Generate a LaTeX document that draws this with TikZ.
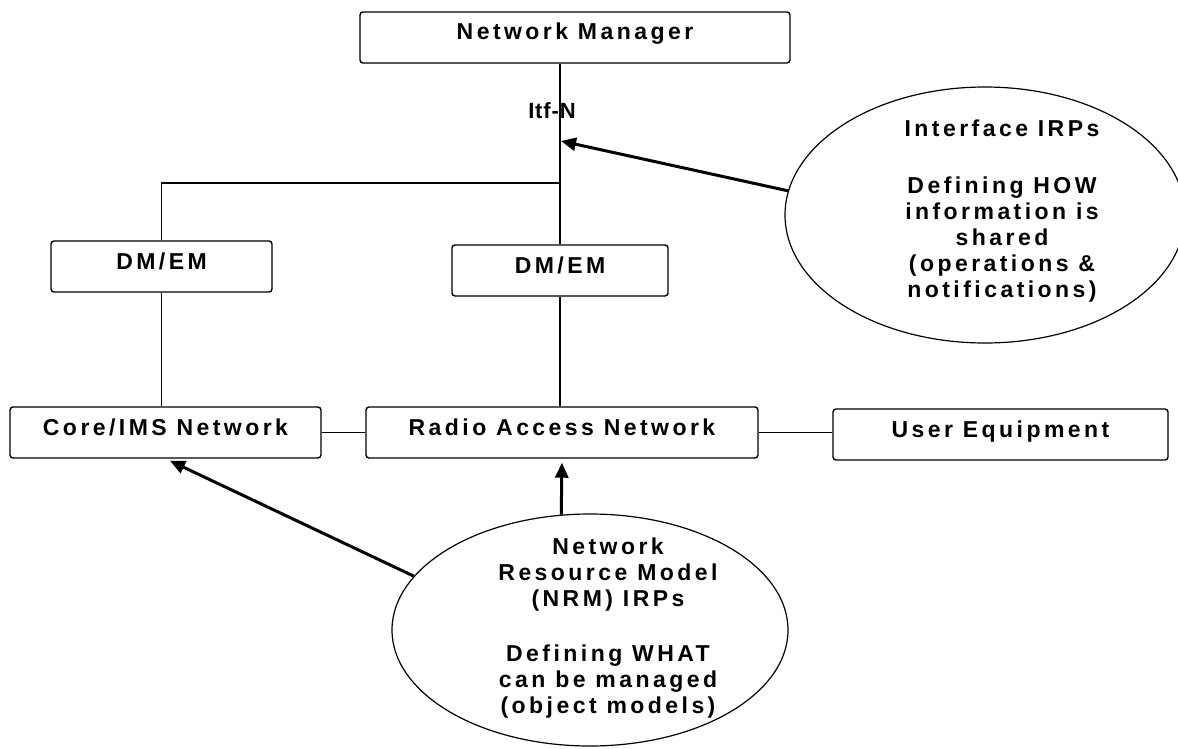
\documentclass[tikz,border=0pt]{standalone}
\usepackage{fontspec}
\setmainfont{Liberation Sans}[LetterSpace=15]
\usetikzlibrary{arrows.meta,shapes.geometric}

\begin{document}
\begin{tikzpicture}[x=1pt,y=-1pt,
    elbox/.style={draw,line width=1.4pt,rounded corners=3pt,inner sep=0pt,
      minimum height=51pt,text height=16pt,text depth=11pt,
      font=\fontsize{23}{26}\selectfont\bfseries},
    bubble/.style={draw,ellipse,line width=1.2pt,inner sep=0pt},
    bubbletext/.style={align=center,font=\fontsize{23}{26}\selectfont\bfseries},
    link/.style={line width=1.1pt},
    pointer/.style={line width=3pt,-{Triangle[length=15pt,width=13pt]}}]
      \useasboundingbox (0,0) rectangle (1178,749);
      % boxes
      \node[elbox,minimum width=430pt] (nm) at (575,37.5) {Network Manager};
      \node[elbox,minimum width=221pt] (dml) at (161.5,266.5) {DM/EM};
      \node[elbox,minimum width=216pt] (dmr) at (560,270.5) {DM/EM};
      \node[elbox,minimum width=311pt] (core) at (165.5,432.5) {Core/IMS Network};
      \node[elbox,minimum width=392pt] (ran) at (562,432.5) {Radio Access Network};
      \node[elbox,minimum width=335pt] (ue) at (1000.5,434.5) {User Equipment};
      % ellipses
      \node[bubble,minimum width=400pt,minimum height=256pt] (iface) at (985,215) {};
      \node[bubbletext] (ifacetxt) at (1002,211) {Interface IRPs\\[31pt]Defining HOW\\information is\\shared\\(operations \&\\notifications)};
      \node[bubble,minimum width=396pt,minimum height=232pt] (nrm) at (590,630) {};
      \node[bubbletext] (nrmtxt) at (608,628) {Network\\Resource Model\\(NRM) IRPs\\[29pt]Defining WHAT\\can be managed\\(object models)};
      \node[font=\fontsize{22}{26}\selectfont\bfseries\addfontfeature{LetterSpace=4}] (itf) at (552,111) {Itf-N};
      \coordinate (junc) at (560,183);
      \coordinate (itftip) at (561,141);
      % links
      \draw[link] (nm.south -| dmr.north) -- (dmr.north);
      \draw[link] (junc) -- (junc -| dml.north) -- (dml.north);
      \draw[link] (dml.south) -- (dml.south |- core.north);
      \draw[link] (dmr.south) -- (dmr.south |- ran.north);
      \draw[link] (core.east) -- (ran.west);
      \draw[link] (ran.east) -- (ran.east -| ue.west);
      % arrows
      \draw[pointer] (iface.173) -- (itftip);
      \draw[pointer,shorten >=5pt] (nrm.163) -- (core.south);
      \draw[pointer,shorten >=4pt] (nrm.104) -- (ran.south);
  \end{tikzpicture}
\end{document}
